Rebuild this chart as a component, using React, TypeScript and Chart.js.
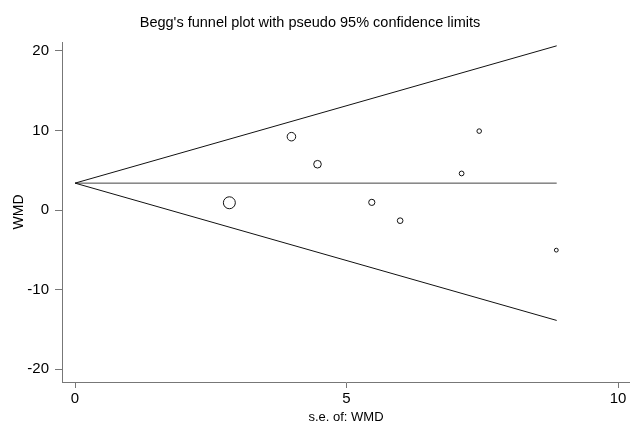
import React, { useEffect, useRef } from "react";
import { Chart, registerables } from "chart.js";

Chart.register(...registerables);

// Study data
const seValues = [2.842, 3.985, 4.465, 5.465, 5.987, 7.119, 7.443, 8.863];
const wmdValues = [0.91, 9.21, 5.75, 0.96, -1.34, 4.59, 9.91, -5.04];

// Funnel (pseudo 95% limits) and pooled line end points
const funnelSe = [0, 8.87];
const upperLimit = [3.375, 20.62];
const lowerLimit = [3.375, -13.87];
const pooledLine = [3.375, 3.375];

// Tick values
const xTickValues = [0, 5, 10];
const yTickValues = [-20, -10, 0, 10, 20];

const titleText = "Begg's funnel plot with pseudo 95% confidence limits";
const xTitle = "s.e. of: WMD";
const yTitle = "WMD";

const FONT = "'Liberation Sans', Arial, sans-serif";

const titlePlugin = {
  id: "stataTitle",
  afterDraw(chart: any) {
    const ctx = chart.ctx;
    ctx.save();
    ctx.fillStyle = "#000";
    ctx.font = `14.5px ${FONT}`;
    ctx.textAlign = "center";
    ctx.textBaseline = "alphabetic";
    ctx.fillText(titleText, 310, 27);
    ctx.restore();
  },
};

export default function App() {
  const ref = useRef<HTMLCanvasElement | null>(null);

  useEffect(() => {
    if (!ref.current) return;
    const toPts = (ys: number[]) => funnelSe.map((x, i) => ({ x, y: ys[i] }));
    const chart = new Chart(ref.current, {
      type: "scatter",
      data: {
        datasets: [
          {
            type: "line",
            data: toPts(upperLimit),
            borderColor: "#111",
            borderWidth: 1,
            pointRadius: 0,
            fill: false,
          },
          {
            type: "line",
            data: toPts(lowerLimit),
            borderColor: "#111",
            borderWidth: 1,
            pointRadius: 0,
            fill: false,
          },
          {
            type: "line",
            data: toPts(pooledLine),
            borderColor: "#444",
            borderWidth: 1,
            pointRadius: 0,
            fill: false,
          },
          {
            type: "scatter",
            data: seValues.map((x, i) => ({ x, y: wmdValues[i] })),
            backgroundColor: "rgba(255,255,255,0)",
            borderColor: "#111",
            borderWidth: 1,
            pointRadius: (ctx: any) => {
              const p = ctx.raw as { x: number };
              return p ? 17 / p.x : 3;
            },
          } as any,
        ],
      },
      options: {
        responsive: false,
        animation: false,
        layout: { autoPadding: false, padding: { top: 42, left: 0, right: 0, bottom: 0 } },
        plugins: {
          legend: { display: false },
          tooltip: { enabled: false },
          title: { display: false },
        },
        scales: {
          x: {
            type: "linear",
            min: -0.24,
            max: 10.22,
            afterFit: (s: any) => {
              s.height = 43;
              s.paddingLeft = 0;
              s.paddingRight = 0;
            },
            afterBuildTicks: (s: any) => {
              s.ticks = xTickValues.map((v) => ({ value: v }));
            },
            grid: {
              drawOnChartArea: false,
              drawTicks: true,
              tickLength: 6,
              tickColor: "#777",
            },
            border: { display: true, color: "#777", width: 1 },
            ticks: {
              color: "#000",
              font: { family: FONT, size: 15 },
              padding: 2,
              maxRotation: 0,
              autoSkip: false,
            },
            title: {
              display: true,
              text: xTitle,
              color: "#000",
              font: { family: FONT, size: 13 },
              padding: { top: 0, bottom: 0 },
            },
          },
          y: {
            type: "linear",
            min: -21.6,
            max: 21.1,
            afterFit: (s: any) => {
              s.width = 62;
              s.paddingTop = 0;
              s.paddingBottom = 0;
            },
            afterBuildTicks: (s: any) => {
              s.ticks = yTickValues.map((v) => ({ value: v }));
            },
            grid: {
              drawOnChartArea: false,
              drawTicks: true,
              tickLength: 7,
              tickColor: "#777",
            },
            border: { display: true, color: "#777", width: 1 },
            ticks: {
              color: "#000",
              font: { family: FONT, size: 15 },
              padding: 6,
              autoSkip: false,
            },
            title: {
              display: true,
              text: yTitle,
              color: "#000",
              font: { family: FONT, size: 14 },
              padding: { top: 10.6, bottom: 0 },
            },
          },
        },
      },
      plugins: [titlePlugin],
    } as any);
    return () => chart.destroy();
  }, []);

  return (
    <div style={{ position: "absolute", left: 0, top: 0, width: 630, height: 425, background: "#fff" }}>
      <canvas ref={ref} width={630} height={425} style={{ width: 630, height: 425, display: "block" }} />
    </div>
  );
}
